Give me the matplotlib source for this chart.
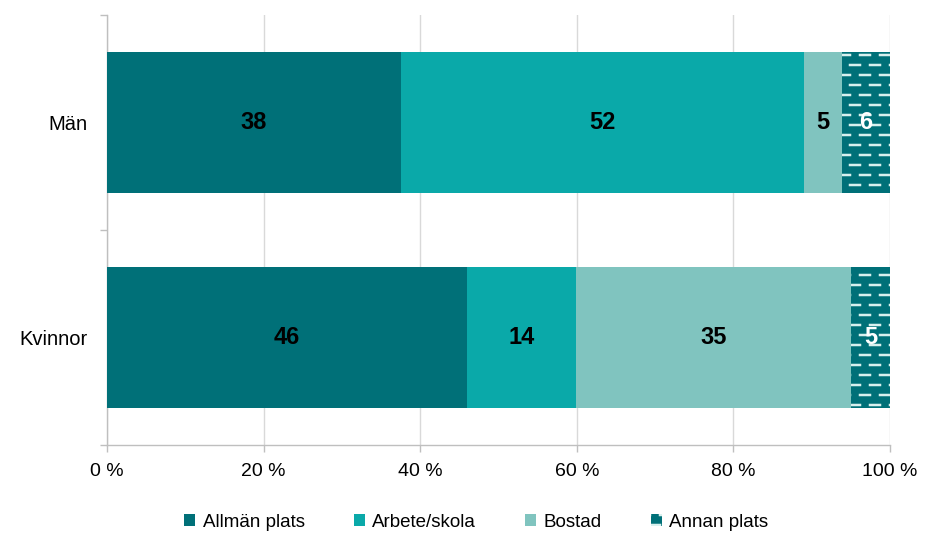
import matplotlib
matplotlib.use("Agg")
import matplotlib.pyplot as plt
import matplotlib.hatch as mhatch
from matplotlib.path import Path
from matplotlib.patches import Patch
import numpy as np

categories = ["Kvinnor", "Män"]
series_names = ["Allmän plats", "Arbete/skola", "Bostad", "Annan plats"]
allman = [46.0, 37.5]
arbete = [13.9, 51.5]
bostad = [35.1, 4.9]
annan = [5.0, 6.1]
xtick_labels = ["0 %", "20 %", "40 %", "60 %", "80 %", "100 %"]

colors = ["#007078", "#0aa9a9", "#80c4bf", "#007078"]
label_colors = ["black", "black", "black", "white"]


class DashHatch(mhatch.HatchPatternBase):
    def __init__(self, hatch, density):
        self.num_rows = 10 if 'd' in hatch else 0
        self.per_row = 5
        self.num_vertices = self.num_rows * self.per_row * 2

    def set_vertices_and_codes(self, vertices, codes):
        i = 0
        for r in range(self.num_rows):
            y = (r + 0.5) / self.num_rows
            off = 0.1 if r % 2 else 0.0
            for k in range(self.per_row):
                x0 = k * 0.2 + off
                vertices[i] = (x0, y)
                vertices[i + 1] = (x0 + 0.1, y)
                codes[i] = Path.MOVETO
                codes[i + 1] = Path.LINETO
                i += 2


mhatch._hatch_types.append(DashHatch)

plt.rcParams['font.family'] = ['Liberation Sans', 'DejaVu Sans']
plt.rcParams['hatch.linewidth'] = 1.8

fig = plt.figure(figsize=(9.25, 5.34), dpi=100)
ax = fig.add_axes([107 / 925, 1 - 445 / 534, 783 / 925, 430 / 534])

ypos = np.arange(len(categories))
data = [allman, arbete, bostad, annan]
left = np.zeros(len(categories))
for si, vals in enumerate(data):
    vals = np.array(vals)
    kw = dict(color=colors[si], height=0.66, linewidth=0, zorder=3)
    if si == 3:
        kw.update(hatch='d', edgecolor='#d8f0ee')
    ax.barh(ypos, vals, left=left, **kw)
    for yi, (l, v) in enumerate(zip(left, vals)):
        ax.text(l + v / 2, ypos[yi], f"{v:.0f}", ha='center', va='center',
                fontsize=17, fontweight='bold', color=label_colors[si], zorder=4)
    left = left + vals

ax.set_xlim(0, 100)
ax.set_ylim(-0.5, 1.5)
ax.set_xticks(np.arange(0, 101, 20))
ax.set_xticklabels(xtick_labels, fontsize=14)
ax.xaxis.grid(True, color='#d9d9d9', linewidth=1, zorder=0)
ax.set_axisbelow(True)

ax.set_yticks([-0.5, 0.5, 1.5])
ax.set_yticklabels([])
ax.set_yticks(ypos, minor=True)
ax.set_yticklabels(categories, minor=True, fontsize=14.5)
ax.tick_params(axis='y', which='major', length=5, color='#bfbfbf', width=1)
ax.tick_params(axis='y', which='minor', length=0, pad=14)
ax.tick_params(axis='x', length=5, color='#bfbfbf', width=1, pad=8)

for s in ['top', 'right']:
    ax.spines[s].set_visible(False)
for s in ['left', 'bottom']:
    ax.spines[s].set_color('#bfbfbf')
    ax.spines[s].set_linewidth(1)

handles = []
for si, name in enumerate(series_names):
    if si == 3:
        handles.append(Patch(facecolor=colors[si], edgecolor='#d8f0ee', linewidth=0, hatch='d', label=name))
    else:
        handles.append(Patch(facecolor=colors[si], linewidth=0, label=name))
fig.legend(handles=handles, loc='center', bbox_to_anchor=(0.515, 0.022), ncol=4,
           frameon=False, fontsize=13.5, handlelength=0.6, handleheight=0.6,
           handletextpad=0.4, columnspacing=2.6, borderaxespad=0)

fig.savefig("out.png", dpi=100)
